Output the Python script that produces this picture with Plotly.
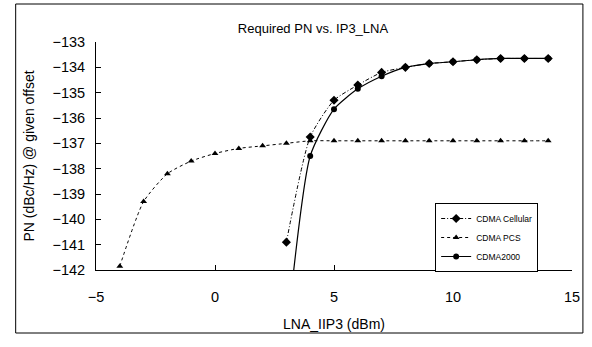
import plotly.graph_objects as go

# Data
pcs_x = [-4, -3, -2, -1, 0, 1, 2, 3, 4, 5, 6, 7, 8, 9, 10, 11, 12, 13, 14]
pcs_y = [-141.85, -139.3, -138.2, -137.7, -137.4, -137.2, -137.1, -137.0, -136.9,
         -136.9, -136.9, -136.9, -136.9, -136.9, -136.9, -136.9, -136.9, -136.9, -136.9]

cell_x = [3, 4, 5, 6, 7, 8, 9, 10, 11, 12, 13, 14]
cell_y = [-140.9, -136.75, -135.3, -134.7, -134.2, -134.0, -133.85, -133.78, -133.7,
          -133.65, -133.65, -133.65]

c2k_x = [3, 4, 5, 6, 7, 8, 9, 10, 11, 12, 13, 14]
c2k_y = [-144.7, -137.5, -135.65, -134.85, -134.35, -134.0, -133.85, -133.78, -133.7,
         -133.65, -133.65, -133.65]

x_ticks = [-5, 0, 5, 10, 15]
y_ticks = [-133, -134, -135, -136, -137, -138, -139, -140, -141, -142]

FONT = "Liberation Sans, Arial, sans-serif"

fig = go.Figure()
fig.add_trace(go.Scatter(
    x=cell_x, y=cell_y, name="CDMA Cellular", mode="lines+markers",
    line=dict(color="black", width=1, dash="4px,2px,1px,2px", shape="spline", smoothing=0.6),
    marker=dict(symbol="diamond", size=7, color="black")))
fig.add_trace(go.Scatter(
    x=pcs_x, y=pcs_y, name="CDMA PCS", mode="lines+markers",
    line=dict(color="black", width=1, dash="dot", shape="spline", smoothing=0.6),
    marker=dict(symbol="triangle-up", size=6, color="black")))
fig.add_trace(go.Scatter(
    x=c2k_x, y=c2k_y, name="CDMA2000", mode="lines+markers",
    line=dict(color="black", width=1.2, shape="spline", smoothing=0.6),
    marker=dict(symbol="circle", size=6, color="black")))

fig.update_layout(
    width=592, height=347,
    margin=dict(l=96, r=16, t=42, b=77),
    paper_bgcolor="white", plot_bgcolor="white",
    font=dict(family=FONT, color="black", size=14),
    title=dict(text="Required PN vs. IP3_LNA", x=313 / 592, xanchor="center",
               y=1 - 28 / 347, yanchor="middle", font=dict(size=13)),
    showlegend=True,
    legend=dict(x=(438 - 96) / 480, y=(270 - 203) / 228, xanchor="left", yanchor="top",
                bordercolor="black", borderwidth=1, bgcolor="white",
                font=dict(size=8.5), tracegroupgap=0, itemwidth=30),
    xaxis=dict(range=[-5, 15], tickvals=x_ticks, ticks="inside", ticklen=5,
               tickcolor="black", showline=True, linecolor="black", linewidth=1,
               showgrid=False, zeroline=False, tickfont=dict(size=14.5),
               ticklabelstandoff=14,
               title=dict(text="LNA_IIP3 (dBm)", font=dict(size=14), standoff=14)),
    yaxis=dict(range=[-142, -133], tickvals=y_ticks, ticks="inside", ticklen=5,
               tickcolor="black", showline=True, linecolor="black", linewidth=1,
               showgrid=False, zeroline=False, tickfont=dict(size=14.5),
               tickformat="d", ticklabelstandoff=7,
               title=dict(text="PN (dBc/Hz) @ given offset", font=dict(size=14), standoff=14)),
)

# Outer chart border
fig.add_shape(type="rect", xref="paper", yref="paper",
              x0=(15 - 96) / 480, x1=(587 - 96) / 480,
              y0=(270 - 333) / 228, y1=(270 - 4) / 228,
              line=dict(color="black", width=1), fillcolor="rgba(0,0,0,0)", layer="below")

fig.write_html("out.html", config={"displayModeBar": False},
               post_script="document.body.style.margin='0';document.body.style.overflow='hidden';")
